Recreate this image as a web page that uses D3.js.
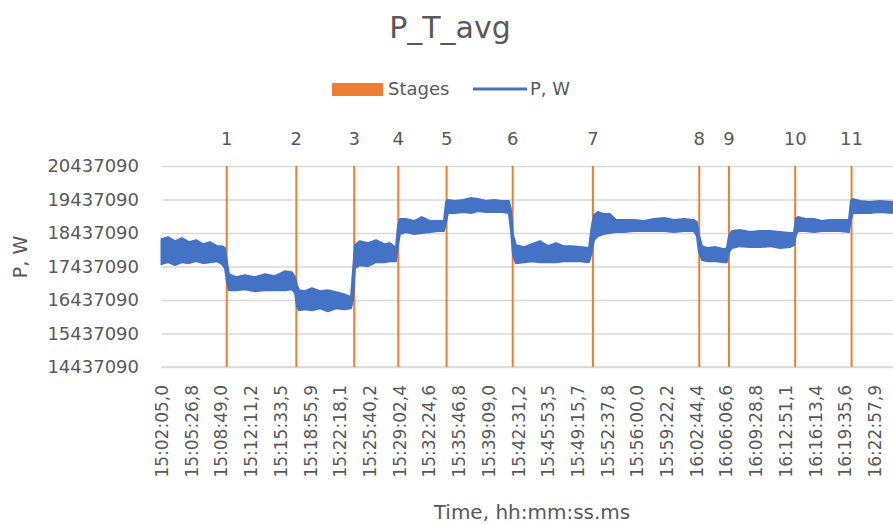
<!DOCTYPE html>
<html><head><meta charset="utf-8">
<script src="https://cdn.jsdelivr.net/npm/d3@7"></script>
<style>
body{margin:0;background:#fff;overflow:hidden}
text{font-family:"DejaVu Sans",sans-serif;fill:#595959}
</style>
</head><body>
<svg id="chart" width="893" height="524"></svg>
<script>
// ---- data ----
const startClock = "15:02:05,0";
const tickLabels = ["15:02:05,0","15:05:26,8","15:08:49,0","15:12:11,2","15:15:33,5","15:18:55,9","15:22:18,1","15:25:40,2","15:29:02,4","15:32:24,6","15:35:46,8","15:39:09,0","15:42:31,2","15:45:53,5","15:49:15,7","15:52:37,8","15:56:00,0","15:59:22,2","16:02:44,4","16:06:06,6","16:09:28,8","16:12:51,1","16:16:13,4","16:19:35,6","16:22:57,9"];
const yTicks = [14437090,15437090,16437090,17437090,18437090,19437090,20437090];
const stageLabels = ["1","2","3","4","5","6","7","8","9","10","11"];
// seconds since 15:02:05,0
const stageSec = [444,918,1312,1612,1941,2391,2937,3661,3863,4314,4698];
const stageValue = 20437090;
// P, W : noisy trace envelope, seconds since 15:02:05,0
const tSec = [0,44,92,140,187,235,282,330,378,412,432,446,459,507,568,636,705,773,841,888,909,922,936,977,1024,1079,1133,1188,1242,1290,1304,1317,1351,1406,1460,1515,1555,1596,1610,1623,1664,1719,1773,1828,1882,1923,1937,1950,1998,2052,2107,2154,2209,2263,2318,2365,2379,2393,2413,2468,2522,2576,2631,2685,2740,2794,2849,2910,2930,2944,2971,3012,3053,3094,3148,3216,3284,3352,3421,3489,3557,3625,3645,3659,3680,3720,3774,3829,3849,3863,3883,3938,4006,4074,4142,4210,4278,4305,4319,4333,4387,4442,4496,4550,4619,4680,4693,4707,4755,4823,4891,4979];
const pMax = [18255000,18315000,18195000,18285000,18165000,18225000,18105000,18165000,18045000,18045000,17986000,17567000,17208000,17119000,17179000,17119000,17208000,17149000,17298000,17268000,17119000,16880000,16730000,16700000,16790000,16700000,16730000,16670000,16611000,16521000,17328000,18075000,18195000,18135000,18225000,18105000,18135000,17986000,18673000,18853000,18853000,18793000,18912000,18793000,18793000,18793000,19361000,19421000,19391000,19421000,19480000,19451000,19391000,19421000,19391000,19391000,19122000,18374000,18075000,18016000,18105000,18195000,18045000,18135000,18045000,18045000,18016000,17986000,18673000,18972000,19062000,19002000,19002000,18823000,18823000,18823000,18793000,18853000,18883000,18823000,18853000,18823000,18763000,18374000,18045000,17986000,18016000,17956000,17986000,18344000,18494000,18524000,18464000,18494000,18494000,18464000,18434000,18434000,18883000,18912000,18853000,18853000,18793000,18823000,18823000,18823000,19391000,19451000,19391000,19361000,19391000,19361000];
const pMin = [17507000,17567000,17477000,17567000,17537000,17597000,17537000,17567000,17597000,17507000,17388000,16969000,16730000,16730000,16760000,16700000,16730000,16730000,16730000,16760000,16640000,16252000,16132000,16162000,16132000,16192000,16102000,16192000,16162000,16192000,16431000,17388000,17477000,17448000,17567000,17567000,17597000,17597000,18075000,18404000,18464000,18404000,18434000,18464000,18494000,18494000,18763000,19032000,19032000,19062000,19032000,19092000,19062000,19062000,19062000,19032000,18524000,17776000,17537000,17567000,17597000,17567000,17567000,17567000,17597000,17597000,17597000,17567000,17866000,18225000,18344000,18404000,18434000,18464000,18464000,18494000,18494000,18494000,18494000,18464000,18494000,18494000,18344000,17866000,17627000,17597000,17597000,17567000,17567000,17866000,17986000,18045000,18016000,18016000,18045000,17986000,18016000,18075000,18374000,18494000,18494000,18464000,18494000,18494000,18494000,18464000,18823000,19032000,19032000,19032000,19062000,19032000];

const title = "P_T_avg";
const xTitle = "Time, hh:mm:ss.ms";
const yTitle = "P, W";
const legendItems = ["Stages","P, W"];

// ---- helpers ----
function clockSec(s){ const [h,m,r]=s.split(":"); return (+h)*3600+(+m)*60+parseFloat(r.replace(",",".")); }
const t0 = clockSec(startClock);
const tickSec = tickLabels.map(s => clockSec(s)-t0);

const ORANGE = "#ED7D31", BLUE = "#4472C4", GRID = "#d9d9d9";
const svg = d3.select("#chart");
const L = 161.5, R = 893, T = 166, B = 367;

const x = d3.scaleLinear().domain([0, 4980]).range([L, R]);
const y = d3.scaleLinear().domain([14437090, 20437090]).range([B, T]);

// gridlines
svg.append("g").attr("transform",`translate(${L},0)`)
  .call(d3.axisLeft(y).tickValues(yTicks).tickSize(-(R-L)).tickFormat(""))
  .call(g=>g.select(".domain").remove())
  .call(g=>g.selectAll("line").attr("stroke",GRID).attr("stroke-width",1.3));

// y labels
svg.append("g").attr("transform",`translate(139,0)`)
  .call(d3.axisLeft(y).tickValues(yTicks).tickSize(0).tickPadding(0).tickFormat(d3.format("d")))
  .call(g=>g.select(".domain").remove())
  .call(g=>g.selectAll("text").attr("font-size",18).attr("fill","#595959").attr("font-family","DejaVu Sans"));

// x axis
const xa = svg.append("g").attr("transform",`translate(0,${B})`)
  .call(d3.axisBottom(x).tickValues(tickSec).tickSize(0).tickFormat((d,i)=>tickLabels[i]));
xa.select(".domain").attr("stroke",GRID).attr("stroke-width",1.3).attr("d",`M${L},0H${R}`);
xa.selectAll("text").attr("font-size",17).attr("fill","#595959").attr("font-family","DejaVu Sans")
  .attr("text-anchor","end").attr("transform","rotate(-90)")
  .attr("x",-18).attr("y",0).attr("dy","0.36em");

// stages (thin columns)
svg.append("g").selectAll("line").data(stageSec).join("line")
  .attr("x1",d=>x(d)).attr("x2",d=>x(d))
  .attr("y1",y(stageValue)).attr("y2",y(14437090))
  .attr("stroke",ORANGE).attr("stroke-width",2);
svg.append("g").selectAll("text").data(stageSec).join("text")
  .attr("x",d=>x(d)).attr("y",145).attr("text-anchor","middle")
  .attr("font-size",18).attr("fill","#404040")
  .text((d,i)=>stageLabels[i]);

// P, W trace
const pts = tSec.map((t,i)=>({t, hi:pMax[i], lo:pMin[i]}));
svg.append("path").datum(pts)
  .attr("d", d3.area().x(d=>x(d.t)).y0(d=>y(d.lo)).y1(d=>y(d.hi)))
  .attr("fill",BLUE).attr("stroke",BLUE).attr("stroke-width",2).attr("stroke-linejoin","round");

// title
svg.append("text").attr("x",450).attr("y",38).attr("text-anchor","middle")
  .attr("font-size",30).attr("fill","#595959").text(title);

// legend
svg.append("rect").attr("x",332).attr("y",83).attr("width",51).attr("height",13).attr("fill",ORANGE);
svg.append("text").attr("x",388).attr("y",95).attr("font-size",18).text(legendItems[0]);
svg.append("line").attr("x1",473).attr("x2",527).attr("y1",89).attr("y2",89).attr("stroke",BLUE).attr("stroke-width",3);
svg.append("text").attr("x",530).attr("y",95).attr("font-size",18).text(legendItems[1]);

// axis titles
svg.append("text").attr("x",532).attr("y",519).attr("text-anchor","middle").attr("font-size",20).text(xTitle);
svg.append("text").attr("transform","translate(27,257) rotate(-90)").attr("text-anchor","middle").attr("font-size",19).text(yTitle);
</script>
</body></html>
